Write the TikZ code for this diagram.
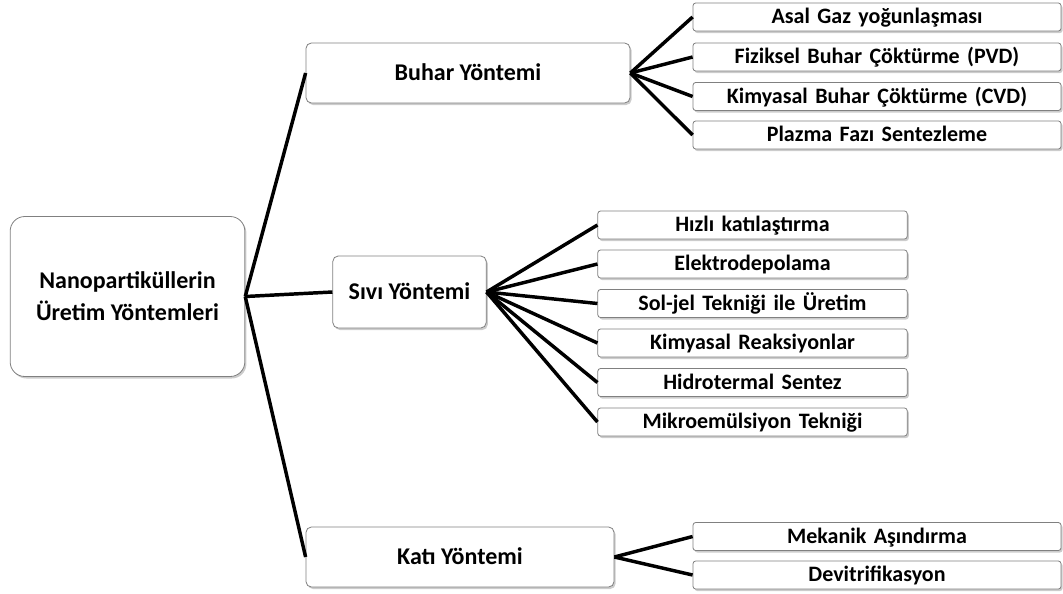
\documentclass[tikz,border=0pt]{standalone}
\usepackage{fontspec}
\setmainfont{Carlito}
\newfontfamily\leaffont{Carlito}[WordSpace=1.5]
\usepackage{xcolor}
\usepackage{tikz}
\usetikzlibrary{arrows}
\usetikzlibrary{shadows}
\tikzset{
    treenode/.style = {align=center, inner sep=0pt, text centered, font=\bfseries},
    boxed/.style = {treenode, rectangle, draw=black!50, line width=0.6pt, fill=white,
                    drop shadow={shadow xshift=1.2pt, shadow yshift=-1.5pt, fill=black!40, opacity=0.5}},
    root_node/.style = {boxed, rounded corners=11pt, minimum width=176pt, minimum height=120pt,
                        font=\bfseries\fontsize{18}{24}\selectfont},
    method_node/.style = {boxed, rounded corners=4pt, minimum height=45pt,
                          text height=14.5pt, text depth=3pt,
                          font=\bfseries\fontsize{18}{22}\selectfont},
    leaf_node/.style = {boxed, rounded corners=2pt, minimum height=21pt,
                        text height=13.4pt, text depth=3pt,
                        font=\leaffont\bfseries\fontsize{16.5}{20}\selectfont},
    link/.style = {line width=2.6pt, black}
}
\begin{document}
\begin{tikzpicture}[-, x=0.75pt, y=-0.75pt]
    \useasboundingbox (0,0) rectangle (1063,593);
    % root
    \node [root_node] (root) at (127.5,296.5) {Nanopartiküllerin\\Üretim Yöntemleri};
    % methods
    \node [method_node, minimum width=243pt] (buhar) at (468,73) {Buhar Yöntemi};
    \node [method_node, minimum width=115pt, minimum height=54pt] (sivi) at (409.5,292) {Sıvı Yöntemi};
    \node [method_node, minimum width=231pt] (kati) at (460,557) {Katı Yöntemi};
    % buhar leaves
    \node [leaf_node, minimum width=276pt] (b1) at (877,17) {Asal Gaz yoğunlaşması};
    \node [leaf_node, minimum width=276pt] (b2) at (877,57) {Fiziksel Buhar Çöktürme (PVD)};
    \node [leaf_node, minimum width=276pt] (b3) at (877,96.5) {Kimyasal Buhar Çöktürme (CVD)};
    \node [leaf_node, minimum width=276pt] (b4) at (877,135) {Plazma Fazı Sentezleme};
    % sivi leaves
    \node [leaf_node, minimum width=232pt] (s1) at (752.5,225) {Hızlı katılaştırma};
    \node [leaf_node, minimum width=232pt] (s2) at (752.5,264) {Elektrodepolama};
    \node [leaf_node, minimum width=232pt] (s3) at (752.5,303.5) {Sol-jel Tekniği ile Üretim};
    \node [leaf_node, minimum width=232pt] (s4) at (752.5,343) {Kimyasal Reaksiyonlar};
    \node [leaf_node, minimum width=232pt] (s5) at (752.5,382.5) {Hidrotermal Sentez};
    \node [leaf_node, minimum width=232pt] (s6) at (752.5,422) {Mikroemülsiyon Tekniği};
    % kati leaves
    \node [leaf_node, minimum width=276pt] (k1) at (877,536.5) {Mekanik Aşındırma};
    \node [leaf_node, minimum width=276pt] (k2) at (877,575) {Devitrifikasyon};
    % links
    \draw [link] (root.east) -- (buhar.west);
    \draw [link] (root.east) -- (sivi.west);
    \draw [link] (root.east) -- (kati.west);
    \foreach \leaf in {b1,b2,b3,b4}
        \draw [link] (buhar.east) -- (\leaf.west);
    \foreach \leaf in {s1,s2,s3,s4,s5,s6}
        \draw [link] (sivi.east) -- (\leaf.west);
    \foreach \leaf in {k1,k2}
        \draw [link] (kati.east) -- (\leaf.west);
\end{tikzpicture}
\end{document}
